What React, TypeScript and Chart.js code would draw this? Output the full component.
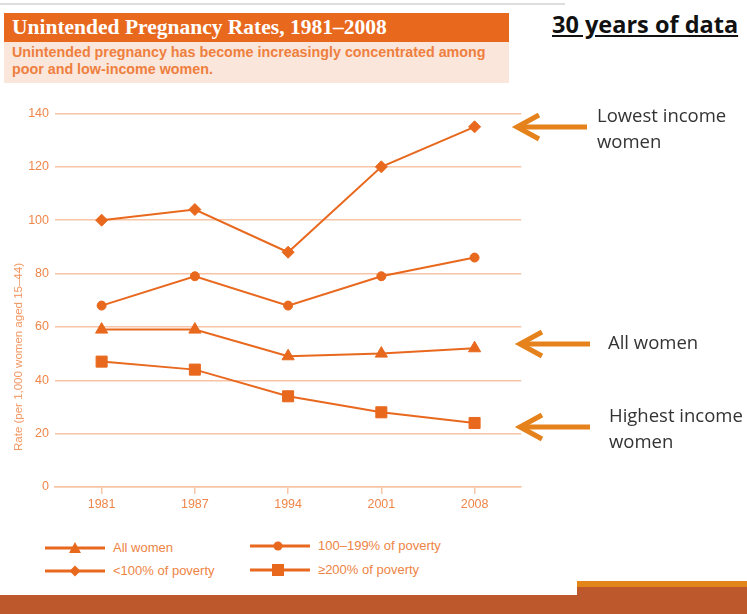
import React, { useEffect, useRef } from "react";
import { Chart, registerables } from "chart.js";

Chart.register(...registerables);

const years = ["1981", "1987", "1994", "2001", "2008"];
const allWomen = [59, 59, 49, 50, 52];
const below100 = [100, 104, 88, 120, 135];
const pov100to199 = [68, 79, 68, 79, 86];
const pov200plus = [47, 44, 34, 28, 24];
const yTicks = [0, 20, 40, 60, 80, 100, 120, 140];

const seriesLabels = ["All women", "<100% of poverty", "100–199% of poverty", "≥200% of poverty"];
const seriesValues = [allWomen, below100, pov100to199, pov200plus];
const seriesStyles = ["triangle", "rectRot", "circle", "rect"];
const seriesRadius = [7, 6, 4.5, 7.8];

const LINE = "#E8681E";
const GRID = "#F8C4A6";
const TICK = "#EF864A";
const NARROW = '"Liberation Sans Narrow", "Liberation Sans", Arial, sans-serif';

function Marker({ style }: { style: string }) {
  const c = 30;
  const y = 7;
  let shape: React.ReactNode = null;
  if (style === "triangle") shape = <polygon points={`${c - 6},${y + 5} ${c + 6},${y + 5} ${c},${y - 6}`} fill={LINE} />;
  if (style === "rectRot") shape = <polygon points={`${c - 5.5},${y} ${c},${y - 5.5} ${c + 5.5},${y} ${c},${y + 5.5}`} fill={LINE} />;
  if (style === "circle") shape = <circle cx={c - 2} cy={y} r={4.5} fill={LINE} />;
  if (style === "rect") shape = <rect x={c - 8} y={y - 6} width={12} height={12} fill={LINE} />;
  return (
    <svg width={60} height={14} style={{ display: "block" }}>
      <line x1={0} y1={y} x2={60} y2={y} stroke={LINE} strokeWidth={3} />
      {shape}
    </svg>
  );
}

function Arrow({ x, y }: { x: number; y: number }) {
  return (
    <svg width={80} height={34} style={{ position: "absolute", left: x - 4, top: y - 17 }}>
      <line x1={6} y1={17} x2={76} y2={17} stroke="#E5821C" strokeWidth={5} />
      <polyline points="28,5 6,17 28,29" fill="none" stroke="#E5821C" strokeWidth={5} strokeLinejoin="miter" />
    </svg>
  );
}

export default function App() {
  const ref = useRef<HTMLCanvasElement | null>(null);

  useEffect(() => {
    if (!ref.current) return;
    const chart = new Chart(ref.current, {
      type: "line",
      data: {
        labels: years,
        datasets: seriesLabels.map((label, i) => ({
          label,
          data: seriesValues[i],
          borderColor: LINE,
          backgroundColor: LINE,
          borderWidth: 2,
          pointStyle: seriesStyles[i] as any,
          pointRadius: seriesRadius[i],
          pointBackgroundColor: LINE,
          pointBorderColor: LINE,
          pointBorderWidth: 1,
          tension: 0,
          clip: false as any,
        })),
      },
      options: {
        animation: false,
        responsive: false,
        layout: { padding: { top: 11, right: 8, left: 0, bottom: 0 } },
        plugins: { legend: { display: false }, tooltip: { enabled: false } },
        scales: {
          x: {
            type: "category",
            offset: true,
            grid: { display: true, drawOnChartArea: false, drawTicks: true, tickLength: 7, color: GRID, lineWidth: 1.5 },
            border: { display: true, color: GRID, width: 1.5 },
            ticks: { color: TICK, font: { family: NARROW, size: 12.5 }, padding: 3, maxRotation: 0 },
            afterFit: (s: any) => { s.height = 33; },
          },
          y: {
            min: 0,
            max: 140,
            afterBuildTicks: (s: any) => { s.ticks = yTicks.map((v) => ({ value: v })); },
            ticks: { color: TICK, font: { family: NARROW, size: 12.5 }, padding: 6 },
            grid: { color: GRID, lineWidth: 1.5, drawTicks: false },
            border: { display: false },
            afterFit: (s: any) => { s.width = 55; },
          },
        },
      },
    });
    return () => chart.destroy();
  }, []);

  const legendPos = [
    { left: 45, top: 540 },
    { left: 45, top: 563 },
    { left: 250, top: 538 },
    { left: 250, top: 562 },
  ];

  const annoFont: React.CSSProperties = {
    position: "absolute",
    fontFamily: '"Open Sans", sans-serif',
    fontSize: 18.5,
    color: "#333",
    lineHeight: "26px",
  };

  return (
    <div style={{ position: "fixed", left: 0, top: 0, width: 747, height: 614, background: "#fff", overflow: "hidden" }}>
      <div style={{ position: "absolute", left: 0, top: 3, width: 565, height: 2, background: "#DDDDDD" }} />
      <div style={{ position: "absolute", left: 4, top: 13, width: 505, height: 29, background: "#E8691E" }} />
      <div style={{ position: "absolute", left: 12, top: 13, height: 29, lineHeight: "29px", color: "#fff", fontFamily: '"Liberation Serif", serif', fontWeight: 700, fontSize: 21.5, whiteSpace: "nowrap" }}>
        Unintended Pregnancy Rates, 1981–2008
      </div>
      <div style={{ position: "absolute", left: 4, top: 42, width: 505, height: 41, background: "#FBE6DB" }} />
      <div style={{ position: "absolute", left: 12, top: 44, lineHeight: "17px", color: "#EE7F3E", fontFamily: '"Liberation Sans", sans-serif', fontWeight: 700, fontSize: 14.3, whiteSpace: "nowrap" }}>
        Unintended pregnancy has become increasingly concentrated among<br />poor and low-income women.
      </div>

      <div style={{ position: "absolute", left: 552, top: 8, fontFamily: '"Open Sans", sans-serif', fontWeight: 700, fontSize: 23.5, color: "#111", textDecoration: "underline", whiteSpace: "nowrap" }}>
        30 years of data
      </div>

      <canvas ref={ref} width={530} height={420} style={{ position: "absolute", left: 0, top: 100, width: 530, height: 420 }} />

      <div style={{ position: "absolute", left: 18, top: 357, width: 0, height: 0 }}>
        <div style={{ position: "absolute", transform: "translate(-50%, -50%) rotate(-90deg)", whiteSpace: "nowrap", fontFamily: NARROW, fontSize: 11.5, color: "#F2955E" }}>
          Rate (per 1,000 women aged 15–44)
        </div>
      </div>

      {seriesLabels.map((label, i) => (
        <div key={label} style={{ position: "absolute", left: legendPos[i].left, top: legendPos[i].top, display: "flex", alignItems: "center", gap: 8 }}>
          <Marker style={seriesStyles[i]} />
          <span style={{ fontFamily: NARROW, fontSize: 13, color: "#EE8444", whiteSpace: "nowrap" }}>{label}</span>
        </div>
      ))}

      <Arrow x={515} y={127} />
      <Arrow x={518} y={344} />
      <Arrow x={518} y={427} />
      <div style={{ ...annoFont, left: 597, top: 102 }}>Lowest income<br />women</div>
      <div style={{ ...annoFont, left: 608, top: 329 }}>All women</div>
      <div style={{ ...annoFont, left: 609, top: 402 }}>Highest income<br />women</div>

      <div style={{ position: "absolute", left: 0, top: 595, width: 747, height: 19, background: "#BC582C" }} />
      <div style={{ position: "absolute", left: 577, top: 581, width: 170, height: 7, background: "#E3861A" }} />
      <div style={{ position: "absolute", left: 577, top: 587, width: 170, height: 27, background: "#BC582C" }} />
    </div>
  );
}
